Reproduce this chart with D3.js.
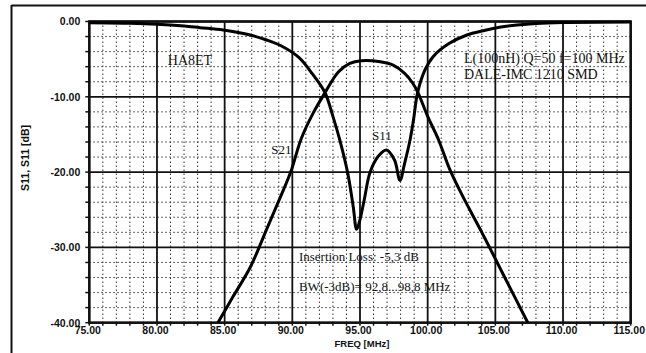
<!DOCTYPE html>
<html>
<head>
<meta charset="utf-8">
<script src="https://cdn.jsdelivr.net/npm/d3@7"></script>
<style>
  html, body { margin: 0; padding: 0; background: #fff; }
  svg { display: block; }
</style>
</head>
<body>
<svg id="chart" width="646" height="353"></svg>
<script>
// ---- data ----
const xTicks = [75, 80, 85, 90, 95, 100, 105, 110, 115];
const yTicks = [0, -10, -20, -30, -40];
const s11Freq = [75, 78, 80, 82, 83.2, 84.9, 86.9, 88.1, 89.3, 90.5, 91.5, 92.4, 93.0, 93.5, 94.1, 94.5, 94.75, 95.0, 95.3, 95.75, 96.35, 96.95, 97.55, 97.95, 98.3, 98.7, 98.95, 99.25, 99.8, 100.4, 101.6, 102.9, 104.1, 105.3, 106.6, 108, 110, 115];
const s11Values = [-0.15, -0.22, -0.35, -0.6, -0.82, -1.13, -1.79, -2.46, -3.35, -4.8, -7.0, -9.4, -12.6, -15.7, -20.2, -24.6, -27.6, -26.3, -23.8, -20.0, -17.9, -17.07, -18.4, -21.1, -18.8, -15.7, -13.1, -9.5, -6.44, -4.67, -2.9, -1.79, -1.22, -0.77, -0.46, -0.25, -0.12, -0.05];
const s21Freq = [84.5, 85.6, 86.9, 88.1, 89.1, 89.9, 90.65, 91.5, 92.4, 93.4, 94.25, 95.1, 96.5, 97.45, 98.3, 98.9, 99.3, 100.0, 100.8, 101.6, 102.5, 104.0, 105.5, 107.4];
const s21Values = [-40, -36.6, -32.6, -27.6, -23.4, -19.9, -15.6, -12.3, -9.5, -6.7, -5.55, -5.2, -5.34, -5.78, -6.88, -8.2, -9.5, -12.6, -15.7, -19.5, -22.9, -28.0, -33.3, -40];
const annotations = [
  {text: "HA8ET", f: 80.8, d: -5.8, size: 14},
  {text: "L(100nH) Q=50 f=100 MHz", f: 102.68, d: -5.55, size: 14},
  {text: "DALE-IMC 1210 SMD", f: 102.68, d: -7.68, size: 14},
  {text: "S21", f: 88.45, d: -17.6, size: 13},
  {text: "S11", f: 95.89, d: -15.74, size: 13},
  {text: "Insertion Loss: -5,3 dB", f: 90.49, d: -31.77, size: 13},
  {text: "BW(-3dB)= 92,8...98,8 MHz", f: 90.49, d: -35.75, size: 13}
];
const xTitle = "FREQ [MHz]";
const yTitle = "S11, S11 [dB]";

// ---- layout ----
const svg = d3.select("#chart");
const L = 89.3, R = 630.7, T = 21.5, B = 322.7;
const x = d3.scaleLinear().domain([75, 115]).range([L, R]);
const y = d3.scaleLinear().domain([0, -40]).range([T, B]);

// outer frame (top & left edges visible)
svg.append("line").attr("x1", 11.5).attr("x2", 646).attr("y1", 5.5).attr("y2", 5.5)
  .attr("stroke", "#111").attr("stroke-width", 2);
svg.append("line").attr("x1", 11.5).attr("x2", 11.5).attr("y1", 5).attr("y2", 353)
  .attr("stroke", "#111").attr("stroke-width", 2);

// minor grid (dotted)
const minorX = d3.range(75, 115.01, 1).filter(v => v % 5 !== 0);
const minorY = d3.range(0, -40.01, -2).filter(v => v % 10 !== 0);
const g = svg.append("g");
g.selectAll(".mx").data(minorX).enter().append("line")
  .attr("x1", d => x(d)).attr("x2", d => x(d)).attr("y1", T).attr("y2", B)
  .attr("stroke", "#333").attr("stroke-width", 1).attr("stroke-dasharray", "1.5,2.5");
g.selectAll(".my").data(minorY).enter().append("line")
  .attr("x1", L).attr("x2", R).attr("y1", d => y(d)).attr("y2", d => y(d))
  .attr("stroke", "#333").attr("stroke-width", 1).attr("stroke-dasharray", "1.5,2.5");

// major grid
g.selectAll(".Mx").data(xTicks).enter().append("line")
  .attr("x1", d => x(d)).attr("x2", d => x(d)).attr("y1", T).attr("y2", B)
  .attr("stroke", "#111").attr("stroke-width", 1.8);
g.selectAll(".My").data(yTicks).enter().append("line")
  .attr("x1", L).attr("x2", R).attr("y1", d => y(d)).attr("y2", d => y(d))
  .attr("stroke", "#111").attr("stroke-width", 1.8);

// axes via d3
const fmt = d => d.toFixed(2);
const xAxis = svg.append("g").attr("transform", `translate(-2,${B})`)
  .call(d3.axisBottom(x).tickValues(xTicks).tickFormat(fmt).tickSize(0).tickPadding(4));
const yAxis = svg.append("g").attr("transform", `translate(${L},0)`)
  .call(d3.axisLeft(y).tickValues(yTicks).tickFormat(fmt).tickSize(0).tickPadding(9));
[xAxis, yAxis].forEach(a => {
  a.select(".domain").remove();
  a.selectAll("text").attr("font-family", "Liberation Sans, Arial, sans-serif")
    .attr("font-size", 10.5).attr("font-weight", "bold").attr("fill", "#111");
});
// minor tick marks
svg.append("g").selectAll("line").data(d3.range(75, 115.01, 1)).enter().append("line")
  .attr("x1", d => x(d)).attr("x2", d => x(d)).attr("y1", B).attr("y2", B + 3)
  .attr("stroke", "#111").attr("stroke-width", 1.5);
svg.append("g").selectAll("line").data(d3.range(0, -40.01, -2)).enter().append("line")
  .attr("x1", L - 4).attr("x2", L).attr("y1", d => y(d)).attr("y2", d => y(d))
  .attr("stroke", "#111").attr("stroke-width", 1.5);

// plot frame
svg.append("rect").attr("x", L).attr("y", T).attr("width", R - L).attr("height", B - T)
  .attr("fill", "none").attr("stroke", "#111").attr("stroke-width", 2.5);

// curves
svg.append("clipPath").attr("id", "pc").append("rect")
  .attr("x", L).attr("y", T - 1).attr("width", R - L).attr("height", B - T + 2);
const line = d3.line().x(d => x(d[0])).y(d => y(d[1])).curve(d3.curveCatmullRom.alpha(0.5));
const s11 = s11Freq.map((f, i) => [f, s11Values[i]]);
const s21 = s21Freq.map((f, i) => [f, s21Values[i]]);
[s11, s21].forEach(s => {
  svg.append("path").datum(s).attr("d", line).attr("fill", "none")
    .attr("stroke", "#000").attr("stroke-width", 3).attr("stroke-linejoin", "round")
    .attr("clip-path", "url(#pc)");
});

// annotations
svg.append("g").selectAll("text").data(annotations).enter().append("text")
  .attr("x", d => x(d.f)).attr("y", d => y(d.d))
  .attr("font-family", "Liberation Serif, Times New Roman, serif")
  .attr("font-size", d => d.size)
  .attr("fill", "#111").text(d => d.text);

// titles
svg.append("text").attr("x", 362).attr("y", 347).attr("text-anchor", "middle")
  .attr("font-family", "Liberation Sans, Arial, sans-serif").attr("font-size", 9.5)
  .attr("font-weight", "bold").attr("fill", "#111").text(xTitle);
svg.append("text").attr("transform", "translate(29,158) rotate(-90)").attr("text-anchor", "middle")
  .attr("font-family", "Liberation Sans, Arial, sans-serif").attr("font-size", 10.5)
  .attr("font-weight", "bold").attr("fill", "#111").text(yTitle);
</script>
</body>
</html>
